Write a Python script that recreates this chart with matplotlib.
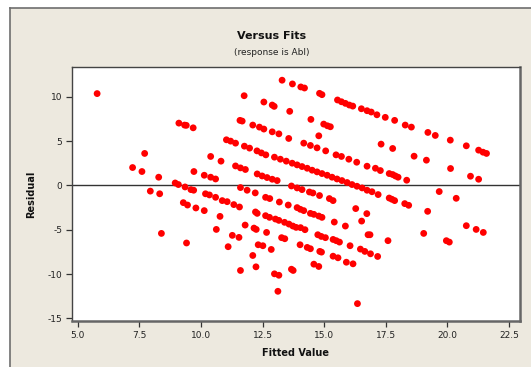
import matplotlib
matplotlib.use("Agg")
import matplotlib.pyplot as plt
from matplotlib.patches import Rectangle
from matplotlib.lines import Line2D

# Fitted values and residuals of the regression on Abl
fitted = [
    5.78, 7.22, 7.60, 7.71, 7.94, 8.28, 8.32, 8.39, 8.95, 9.08,
    9.10, 9.33, 9.40, 9.35, 9.59, 9.70, 9.68, 9.71, 9.28, 9.45,
    9.79, 9.41, 10.13, 10.13, 10.39, 10.59, 10.39, 10.81, 10.18, 10.34,
    10.59, 10.62, 10.77, 10.86, 11.06, 11.33, 11.56, 11.27, 11.54, 11.10,
    11.60, 11.87, 12.20, 11.79, 12.15, 12.24, 12.66, 12.21, 12.28, 12.62,
    12.78, 13.02, 13.16, 13.39, 13.57, 13.73, 13.86, 14.04, 14.22, 12.62,
    12.79, 13.18, 13.54, 13.90, 14.03, 14.17, 14.44, 14.58, 14.78, 14.91,
    15.41, 15.86, 16.28, 16.73, 16.52, 13.67, 13.90, 14.10, 14.40, 14.54,
    14.81, 15.21, 15.36, 14.74, 14.88, 15.05, 15.36, 15.49, 15.62, 16.78,
    16.86, 16.05, 16.47, 16.65, 16.88, 17.17, 12.32, 12.51, 12.85, 13.27,
    13.40, 14.02, 14.31, 14.44, 14.82, 14.89, 15.36, 15.56, 15.90, 16.17,
    12.10, 12.23, 11.60, 12.98, 13.16, 13.67, 13.74, 14.58, 14.78, 13.12,
    16.35, 17.64, 17.75, 17.86, 18.27, 18.43, 19.67, 20.36, 19.20, 20.77,
    21.17, 21.46, 19.04, 19.96, 20.08, 17.59, 11.75, 12.55, 12.89, 12.97,
    13.60, 14.46, 14.98, 15.13, 15.25, 14.78, 13.29, 13.71, 14.05, 14.20,
    14.81, 14.91, 15.54, 15.70, 15.86, 16.02, 16.16, 16.51, 16.74, 16.91,
    17.14, 17.48, 17.86, 18.29, 18.54, 19.21, 19.51, 20.12, 20.77, 21.27,
    21.45, 21.59, 17.31, 17.78, 18.65, 19.15, 20.13, 20.94, 21.27, 17.08,
    17.28, 17.64, 17.78, 17.89, 18.00, 18.35, 11.58, 11.67, 12.10, 12.37,
    12.55, 12.89, 13.16, 13.56, 14.17, 14.44, 14.71, 15.06, 15.48, 15.70,
    16.00, 16.32, 16.74, 11.03, 11.20, 11.40, 11.76, 11.97, 12.27, 12.45,
    12.63, 12.98, 13.22, 13.46, 13.70, 13.90, 14.10, 14.31, 14.51, 14.71,
    14.91, 15.12, 15.32, 15.52, 15.72, 15.93, 16.13, 16.33, 16.54, 16.74,
    16.94, 17.19, 11.40, 11.60, 11.80, 12.28, 12.48, 12.68, 12.89, 13.09,
]
residuals = [
    10.35, 2.01, 1.56, 3.60, -0.65, 0.92, -0.95, -5.42, 0.27, 0.09,
    7.02, 6.80, 6.77, -0.18, -0.48, -0.55, 6.49, 1.56, -1.95, -2.22,
    -2.55, -6.50, -2.85, 1.14, 0.92, 0.72, 3.26, 2.73, -0.95, -1.08,
    -1.35, -4.97, -3.50, -1.72, -1.84, -2.17, -2.44, -5.64, -5.87, -6.92,
    -0.25, -0.55, -0.85, -4.48, -4.82, -4.97, -5.31, -3.00, -3.16, -3.42,
    -3.61, -3.80, -3.95, -4.17, -4.37, -4.59, -4.74, -4.77, -5.00, -1.35,
    -1.49, -1.88, -2.22, -2.51, -2.70, -2.85, -3.16, -3.27, -3.46, -3.61,
    -4.14, -4.59, -2.62, -3.19, -4.03, -0.07, -0.29, -0.48, -0.75, -0.86,
    -1.15, -1.49, -1.72, -5.57, -5.76, -5.90, -6.10, -6.24, -6.40, -5.57,
    -5.57, -6.81, -7.19, -7.45, -7.72, -8.02, -6.70, -6.81, -7.23, -5.90,
    -6.02, -6.70, -7.00, -7.15, -7.45, -7.53, -7.99, -8.17, -8.67, -8.85,
    -7.91, -9.19, -9.60, -9.98, -10.14, -9.46, -9.60, -8.89, -9.15, -11.95,
    -13.34, -1.43, -1.57, -1.72, -2.06, -2.25, -0.70, -1.46, -2.93, -4.55,
    -4.97, -5.31, -5.42, -6.24, -6.40, -6.24, 10.11, 9.40, 9.06, 8.91,
    8.35, 7.44, 6.91, 6.72, 6.61, 5.59, 11.86, 11.44, 11.10, 10.98,
    10.38, 10.23, 9.63, 9.43, 9.25, 9.06, 8.94, 8.64, 8.42, 8.27,
    7.96, 7.67, 7.33, 6.80, 6.57, 5.97, 5.63, 5.10, 4.46, 3.97,
    3.74, 3.60, 4.65, 4.16, 3.29, 2.84, 1.90, 1.03, 0.69, 1.93,
    1.67, 1.33, 1.22, 1.06, 0.92, 0.58, 7.33, 7.25, 6.80, 6.57,
    6.35, 6.04, 5.81, 5.29, 4.76, 4.50, 4.23, 3.89, 3.44, 3.26,
    2.95, 2.61, 2.16, 5.14, 4.99, 4.76, 4.42, 4.20, 3.89, 3.66,
    3.44, 3.18, 2.95, 2.73, 2.50, 2.31, 2.12, 1.93, 1.71, 1.52,
    1.33, 1.14, 0.92, 0.72, 0.54, 0.32, 0.09, -0.10, -0.29, -0.55,
    -0.72, -1.04, 2.19, 1.97, 1.79, 1.29, 1.06, 0.88, 0.69, 0.54,
]

x_ticks = [5.0, 7.5, 10.0, 12.5, 15.0, 17.5, 20.0, 22.5]
x_tick_labels = ["5.0", "7.5", "10.0", "12.5", "15.0", "17.5", "20.0", "22.5"]
y_ticks = [-15, -10, -5, 0, 5, 10]
y_tick_labels = ["-15", "-10", "-5", "0", "5", "10"]

W, H = 531, 367
fig = plt.figure(figsize=(W / 100, H / 100), dpi=100)
fig.patch.set_facecolor("white")

# beige panel with a grey edge on its top and left
panel_bg = "#EDE9DF"
fig.patches.append(Rectangle((10 / W, 0), 1 - 10 / W, 1 - 8 / H,
                             transform=fig.transFigure, facecolor=panel_bg,
                             edgecolor="none", zorder=-5))
fig.lines.append(Line2D([10 / W, 1], [1 - 8 / H, 1 - 8 / H],
                        transform=fig.transFigure, color="#6E6E6E", lw=1.2,
                        zorder=-4))
fig.lines.append(Line2D([10 / W, 10 / W], [0, 1 - 8 / H],
                        transform=fig.transFigure, color="#6E6E6E", lw=1.2,
                        zorder=-4))

ax = fig.add_axes([72 / W, 1 - 321 / H, (520 - 72) / W, (321 - 67) / H])
ax.set_zorder(1)
ax.set_facecolor("white")
ax.scatter(fitted, residuals, s=24, color="#FF0000", edgecolors="none", zorder=3)
ax.axhline(0, color="#333333", lw=1.0, zorder=2)

ax.set_xlim(4.76, 22.95)
ax.set_ylim(-15.3, 13.35)
ax.set_xticks(x_ticks)
ax.set_xticklabels(x_tick_labels)
ax.set_yticks(y_ticks)
ax.set_yticklabels(y_tick_labels)
ax.tick_params(direction="out", length=4, width=0.9, color="#333333",
               labelsize=6.5, labelcolor="#222222", pad=3)

for side in ("left", "top"):
    ax.spines[side].set_color("#444444")
    ax.spines[side].set_linewidth(1.0)
for side in ("right", "bottom"):
    ax.spines[side].set_color("#666666")
    ax.spines[side].set_linewidth(1.8)

ax.set_xlabel("Fitted Value", fontsize=7, fontweight="bold", color="#111111",
              labelpad=6)
ax.set_ylabel("Residual", fontsize=7, fontweight="bold", color="#111111",
              labelpad=8)

fig.text(272 / W, 1 - 36 / H, "Versus Fits", ha="center", va="center",
         fontsize=8, fontweight="bold", color="#111111")
fig.text(272 / W, 1 - 52.5 / H, "(response is Abl)", ha="center", va="center",
         fontsize=6.5, color="#222222")

fig.savefig("out.png", dpi=100, facecolor=fig.get_facecolor())
